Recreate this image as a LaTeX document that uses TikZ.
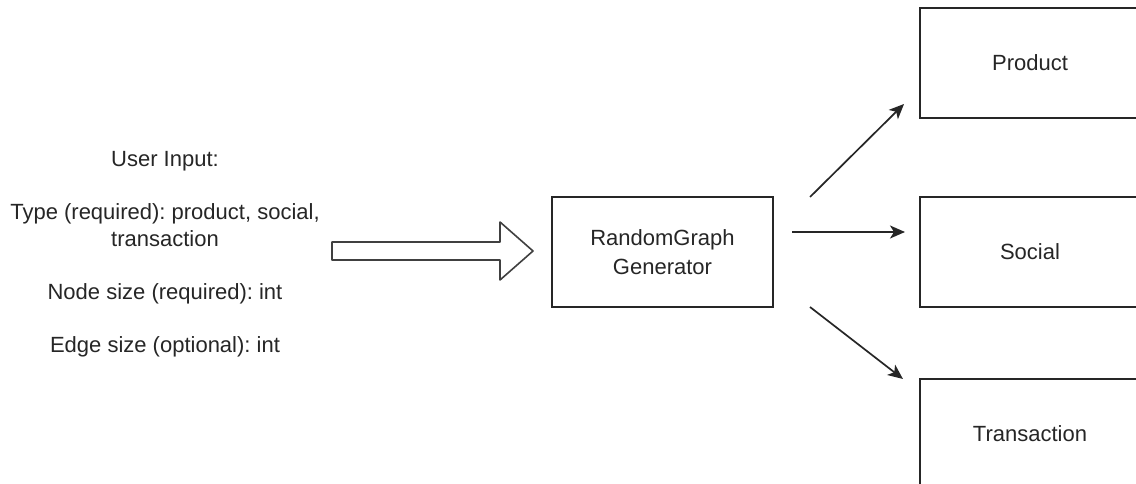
\documentclass[tikz,border=0pt]{standalone}
\usepackage{fontspec}
\setmainfont{Liberation Sans}
\usetikzlibrary{arrows.meta}
\frenchspacing
\begin{document}
\begin{tikzpicture}[x=1pt,y=-1pt,
  box/.style={draw=black!85, line width=1.8pt, minimum width=220pt, minimum height=110pt,
    inner sep=0pt, align=center, font=\fontsize{22}{29}\selectfont, text=black!85},
  conn/.style={line width=1.7pt, draw=black!85, -{Stealth[length=15pt,width=13pt,inset=4pt]}},
  plain/.style={align=center, font=\fontsize{22}{26.5}\selectfont, text=black!85, inner sep=0pt}]
\useasboundingbox (0,0) rectangle (1136,484);
\clip (0,0) rectangle (1136,484);
\fill[white] (0,0) rectangle (1136,484);

\node[plain] (input) at (165,254) {User Input:\\[26.5pt]Type (required): product, social,\\transaction\\[26.5pt]Node size (required): int\\[26.5pt]Edge size (optional): int};

\node[box, minimum width=221pt] (gen) at (662.5,252) {RandomGraph\\Generator};
\node[box] (product) at (1030,63) {Product};
\node[box] (social) at (1030,252) {Social};
\node[box] (trans) at (1030,434) {Transaction};

% hollow block arrow from input to generator
\draw[line width=1.6pt, draw=black!75, line join=round]
  (332,242) -- (500,242) -- (500,222) -- (533,251) -- (500,280) -- (500,260) -- (332,260) -- cycle;

\coordinate (s1) at (810,197);
\coordinate (e1) at (904,104);
\coordinate (s2) at (792,232);
\coordinate (e2) at (905,232);
\coordinate (s3) at (810,307);
\coordinate (e3) at (903,379);
\draw[conn] (s1) -- (e1);
\draw[conn] (s2) -- (e2);
\draw[conn] (s3) -- (e3);
\end{tikzpicture}
\end{document}
